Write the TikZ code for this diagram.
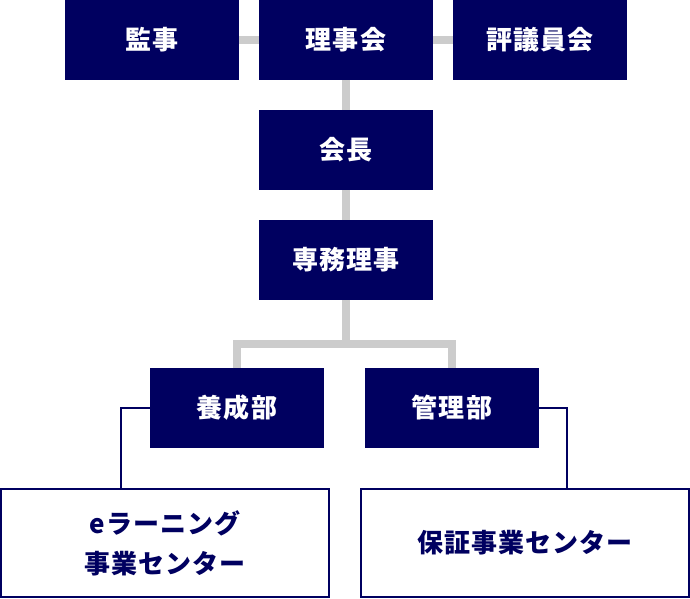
\documentclass[tikz,border=0pt]{standalone}
\usepackage{fontspec}
\newfontfamily\jp{Noto Sans CJK JP}[LetterSpace=4]
\usetikzlibrary{positioning}
\definecolor{navy}{RGB}{0,0,96}
\definecolor{linegray}{RGB}{204,204,204}
\tikzset{
  darkbox/.style={fill=navy, text=white, minimum width=174pt, minimum height=80pt, inner sep=0pt, outer sep=0pt, font=\jp\bfseries\fontsize{26}{30}\selectfont},
  whitebox/.style={draw=navy, line width=2pt, fill=white, text=navy, minimum width=328pt, minimum height=108pt, inner sep=0pt, outer sep=0pt, align=center, font=\jp\bfseries\fontsize{26}{40}\selectfont},
  grayline/.style={draw=linegray, line width=8pt},
  navyline/.style={draw=navy, line width=1.5pt}
}
\begin{document}
\begin{tikzpicture}[x=1pt,y=-1pt]
\useasboundingbox (0,0) rectangle (690,598);
\node[darkbox] (kanji) at (152,40) {監事};
\node[darkbox] (riji) at (346,40) {理事会};
\node[darkbox] (hyogi) at (540,40) {評議員会};
\node[darkbox] (kaicho) at (346,150) {会長};
\node[darkbox] (senmu) at (346,260) {専務理事};
\node[darkbox] (yosei) at (237,408) {養成部};
\node[darkbox] (kanri) at (452,408) {管理部};
\node[whitebox] (elearn) at (165,543) {eラーニング\\事業センター};
\node[whitebox] (hosho) at (525,543) {保証事業センター};
\coordinate (branch) at (346,344);
\draw[grayline] (kanji) -- (riji);
\draw[grayline] (riji) -- (hyogi);
\draw[grayline] (riji) -- (kaicho);
\draw[grayline] (kaicho) -- (senmu);
\draw[grayline] (senmu) -- (branch);
\draw[grayline] (yosei.north) |- (branch) -| (kanri.north);
\draw[navyline] (yosei.west) -| ([xshift=-44pt]elearn.north);
\draw[navyline] (kanri.east) -| ([xshift=42pt]hosho.north);
\end{tikzpicture}
\end{document}
